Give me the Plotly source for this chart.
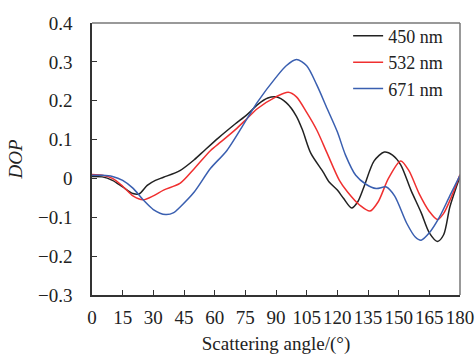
import plotly.graph_objects as go

# Scattering angle (deg) and DOP values
ang_450 = [0, 5, 10, 15, 20, 23, 27, 31, 35, 43, 50, 55, 62, 70, 76, 81, 86, 90, 95, 100, 103, 107, 113, 116, 120, 123, 127, 130, 133, 138, 143, 147, 151, 156, 161, 165, 169, 172, 175, 178, 180]
dop_450 = [0.005, 0.004, -0.005, -0.022, -0.039, -0.04, -0.018, -0.005, 0.003, 0.02, 0.048, 0.072, 0.105, 0.14, 0.165, 0.19, 0.207, 0.21, 0.195, 0.16, 0.124, 0.065, 0.017, -0.009, -0.03, -0.051, -0.076, -0.06, -0.022, 0.045, 0.068, 0.06, 0.035, -0.03, -0.088, -0.14, -0.162, -0.145, -0.074, -0.025, 0.004]

ang_532 = [0, 5, 10, 15, 20, 25, 30, 35, 43, 50, 58, 63, 70, 76, 81, 90, 96, 100, 105, 110, 115, 121, 125, 131, 136, 140, 145, 151, 155, 160, 165, 169, 172, 176, 180]
dop_532 = [0.01, 0.008, 0.0, -0.02, -0.045, -0.055, -0.045, -0.03, -0.013, 0.025, 0.072, 0.094, 0.125, 0.155, 0.18, 0.21, 0.222, 0.21, 0.17, 0.124, 0.065, -0.005, -0.035, -0.069, -0.084, -0.06, 0.0, 0.045, 0.02, -0.039, -0.085, -0.106, -0.09, -0.045, 0.01]

ang_671 = [0, 5, 10, 15, 20, 25, 30, 36, 40, 43, 50, 58, 66, 76, 81, 90, 95, 100, 105, 110, 115, 120, 124, 129, 134, 139, 144, 148, 154, 158, 161, 165, 170, 175, 180]
dop_671 = [0.008, 0.008, 0.005, -0.005, -0.025, -0.055, -0.08, -0.093, -0.088, -0.074, -0.035, 0.026, 0.072, 0.155, 0.197, 0.26, 0.29, 0.306, 0.29, 0.24, 0.18, 0.12, 0.06, 0.008, -0.015, -0.026, -0.022, -0.045, -0.116, -0.15, -0.159, -0.14, -0.099, -0.045, 0.008]

series_names = ["450 nm", "532 nm", "671 nm"]
series_colors = ["#222222", "#f03030", "#3a5fb0"]
x_ticks = list(range(0, 181, 15))
y_ticks = [-0.3, -0.2, -0.1, 0, 0.1, 0.2, 0.3, 0.4]
y_ticktext = ["\u22120.3", "\u22120.2", "\u22120.1", "0", "0.1", "0.2", "0.3", "0.4"]

FONT = "Liberation Serif"

fig = go.Figure()
for xs, ys, name, col in zip([ang_450, ang_532, ang_671], [dop_450, dop_532, dop_671], series_names, series_colors):
    fig.add_trace(go.Scatter(x=xs, y=ys, mode="lines", name=name,
                             line=dict(color=col, width=1.5, shape="spline", smoothing=0.8)))

fig.update_layout(
    width=476, height=355,
    margin=dict(l=92, r=16, t=23, b=60, autoexpand=False),
    plot_bgcolor="white", paper_bgcolor="white",
    font=dict(family=FONT, size=19, color="#222"),
    legend=dict(x=0.696, y=1.02, xanchor="left", yanchor="top",
                bgcolor="rgba(0,0,0,0)", font=dict(family=FONT, size=18), tracegroupgap=0),
    xaxis=dict(range=[0, 180], tickvals=x_ticks, ticks="inside", ticklen=5, tickcolor="#333",
               showline=True, linecolor="#333", linewidth=1.5, showgrid=False, zeroline=False,
               tickangle=0, ticklabelstandoff=4, automargin=False,
               tickfont=dict(family=FONT, size=19),
               title=dict(text="Scattering angle/(°)", standoff=11, font=dict(family=FONT, size=19))),
    yaxis=dict(range=[-0.3, 0.4], tickvals=y_ticks, ticktext=y_ticktext, ticks="inside", ticklen=5,
               tickcolor="#333", showline=True, linecolor="#333", linewidth=1.5, showgrid=False,
               zeroline=False, ticklabelstandoff=14, automargin=False,
               tickfont=dict(family=FONT, size=19),
               title=dict(text="<i>DOP</i>", standoff=10, font=dict(family=FONT, size=19))),
    shapes=[
        dict(type="line", xref="paper", yref="paper", x0=0, x1=1, y0=1, y1=1,
             line=dict(color="#777", width=1.5)),
        dict(type="line", xref="paper", yref="paper", x0=1, x1=1, y0=0, y1=1,
             line=dict(color="#777", width=1.5)),
    ],
)

fig.write_html("out.html", config={"displayModeBar": False},
               post_script="document.body.style.margin='0';document.body.style.overflow='hidden';")
